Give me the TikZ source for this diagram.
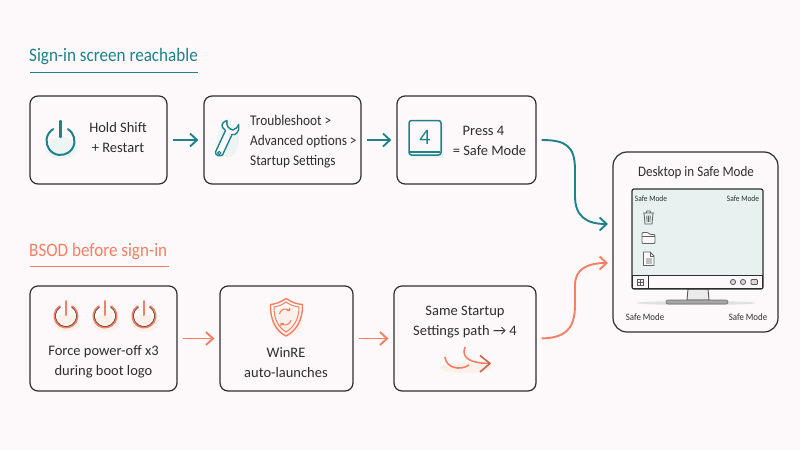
\documentclass[tikz,border=0pt]{standalone}
\usepackage{fontspec}
\setmainfont{Carlito}
\newfontfamily\narrowf[FakeStretch=0.9]{Carlito}
\usetikzlibrary{arrows.meta}
\definecolor{bgc}{HTML}{FDF9FA}
\definecolor{teal1}{HTML}{1F818A}
\definecolor{coral}{HTML}{F47F63}
\definecolor{ink}{HTML}{2E2E2E}
\definecolor{screenc}{HTML}{E6F1F0}
\definecolor{tintT}{HTML}{EDF5F4}
\definecolor{tintC}{HTML}{FCF0EB}
\tikzset{
  card/.style={draw=ink,line width=1.2pt,rounded corners=8pt,fill=bgc,inner sep=0pt},
  lab/.style={text=ink,font=\fontsize{14.5}{20}\selectfont,inner sep=0pt,align=center},
  narrowlab/.style={text=ink,font=\narrowf\fontsize{14.8}{20}\selectfont,inner sep=0pt,align=left,anchor=west},
  tiny/.style={text=ink,font=\narrowf\fontsize{8.2}{10}\selectfont,inner sep=0pt},
  small/.style={text=ink,font=\narrowf\fontsize{9.8}{13}\selectfont,inner sep=0pt},
  head/.style={font=\narrowf\fontsize{19}{22}\selectfont,inner sep=0pt,anchor=west},
  flow/.style={line width=1.9pt,-{Straight Barb[length=7pt,width=13pt,line width=1.9pt]},shorten >=5pt,shorten <=5pt},
  thin1/.style={draw=ink!75,line width=.8pt},
}
\newcommand{\powicon}[5]{% x y r colour tint
  \fill[#5] (#1+1,#2+7) ellipse ({#3+2} and {#3-3});
  \draw[#4,line width=2pt,line cap=round] (#1,#2)+(-58:#3) arc[start angle=-58,end angle=238,radius=#3];
}
\begin{document}
\begin{tikzpicture}[x=1pt,y=-1pt]
\useasboundingbox (0,0) rectangle (800,450);
\fill[bgc] (0,0) rectangle (800,450);

% headings
\node[head,text=teal1] (h1) at (29,57) {Sign-in screen reachable};
\draw[teal1,line width=1.2pt] (30,72.5) -- (198,72.5);
\node[head,text=coral] (h2) at (29,251.5) {BSOD before sign-in};
\draw[coral,line width=1.2pt] (30,266.5) -- (169,266.5);

% cards
\node[card,minimum width=137pt,minimum height=88pt] (a1) at (98.5,140) {};
\node[card,minimum width=157pt,minimum height=88pt] (a2) at (282.5,140) {};
\node[card,minimum width=139pt,minimum height=88pt] (a3) at (466.5,140) {};
\node[card,minimum width=147pt,minimum height=105pt] (b1) at (103.5,338.5) {};
\node[card,minimum width=133pt,minimum height=105pt] (b2) at (286.5,338.5) {};
\node[card,minimum width=142pt,minimum height=105pt] (b3) at (465,338.5) {};
\node[card,rounded corners=14pt,minimum width=165pt,minimum height=180pt] (big) at (695.5,242) {};

% connectors
\coordinate (inT) at (613,224);
\coordinate (inB) at (613,263);
\draw[flow,teal1] (a1) -- (a2);
\draw[flow,teal1] (a2) -- (a3);
\draw[flow,coral] (b1) -- (b2);
\draw[flow,coral] (b2) -- (b3);
\draw[flow,teal1] (a3.east) .. controls (566,140) and (575,146) .. (575,170) -- (575,196) .. controls (575,216) and (586,224) .. (inT);
\draw[flow,coral] (b3.east) .. controls (564,338) and (575,330) .. (575,305) -- (575,285) .. controls (575,270) and (586,263) .. (inB);

% row one contents
\powicon{60.5}{141}{14}{teal1}{tintT}
\draw[teal1,line width=2.4pt,line cap=round] (60.5,121) -- (60.5,137);
\node[lab] (t1) at (118,138) {Hold Shift\\+ Restart};

\fill[tintT] (228,140) ellipse (11 and 17);
\draw[teal1,line width=1.4pt,line join=round,fill=bgc]
  (215.5,152) -- (225.5,130.5) .. controls (221,127) and (220,123) .. (227,120.5)
  .. controls (226,125) and (228,129) .. (233,130) .. controls (236,129) and (238,127) .. (238.7,124.5)
  .. controls (240,131) and (236,136) .. (232,134.5) -- (222.5,155)
  .. controls (219,157) and (215,155) .. (215.5,152) -- cycle;
\draw[teal1,line width=1pt] (219.3,153) circle (1.6);
\node[narrowlab] (t2) at (250,141.5) {Troubleshoot >\\Advanced options >\\Startup Settings};

\fill[tintT] (411,123) rectangle (444,158);
\draw[teal1,line width=1.5pt,rounded corners=2.5pt,fill=bgc] (409,120.5) rectangle (441,155);
\draw[teal1,line width=1.5pt] (410,152) -- (440,152);
\node[text=teal1,font=\fontsize{22}{24}\selectfont,inner sep=0pt] (k4) at (425,137) {4};
\node[lab] (t3a) at (483.5,130.5) {Press 4};
\node[lab] (t3b) at (489.5,151) {= Safe Mode};

% row two contents
\foreach \x in {66,105,144}{
  \powicon{\x}{316}{11.5}{coral}{tintC}
  \draw[coral,line width=2pt,line cap=round] (\x,301) -- (\x,315);
  \draw[ink,line width=.5pt] (\x,316)+(-58:10.5) arc[start angle=-58,end angle=238,radius=10.5];
}
\node[lab] (t4) at (103.5,362) {Force power-off x3\\during boot logo};

\fill[tintC] (287,322) ellipse (15 and 14);
\draw[coral,line width=1.4pt,line join=round] (286,298.5) .. controls (279,303) and (275,304) .. (270.5,304.5)
  .. controls (270,320) and (276,331) .. (286,336) .. controls (296,331) and (303,320) .. (302.5,304.5)
  .. controls (297,304) and (293,303) .. (286,298.5) -- cycle;
\draw[coral,line width=1pt] (286,302) .. controls (281,305.5) and (278,306.5) .. (274,307)
  .. controls (274,319) and (278,327) .. (286,332) .. controls (294,327) and (299,319) .. (299,307)
  .. controls (295,306.5) and (291,305.5) .. (286,302) -- cycle;
\draw[coral,line width=1.1pt,-{Straight Barb[length=2pt,width=4pt]}] (279.5,314) arc[start angle=190,end angle=320,radius=6];
\draw[coral,line width=1.1pt,-{Straight Barb[length=2pt,width=4pt]}] (291,320) arc[start angle=10,end angle=140,radius=6];
\node[lab] (t5) at (286,363) {WinRE\\auto-launches};

\node[lab] (t6) at (465,322) {Same Startup\\Settings path → 4};
\fill[tintC] (466,368) ellipse (26 and 5);
\draw[coral,line width=1.6pt] (445,357) .. controls (446,368) and (460,371) .. (469,365);
\draw[coral,line width=1.6pt] (465,347) .. controls (461,358) and (470,363) .. (489,363.5);
\draw[coral!80!black,line width=1.6pt,line join=round] (480,355.5) -- (490,363.5) -- (480,372);

% desktop
\node[text=ink,font=\narrowf\fontsize{14.5}{17}\selectfont,inner sep=0pt] (t7) at (696,173) {Desktop in Safe Mode};
\fill[black!12] (696,303) ellipse (60 and 2);
\draw[ink!80,line width=.9pt,fill=black!8] (688,289) -- (687,300) -- (709,300) -- (708,289) -- cycle;
\draw[ink!70,fill=black!35,line width=.6pt,rounded corners=2pt] (666,300) rectangle (728,304);
\draw[ink,line width=1.2pt,rounded corners=2pt,fill=screenc] (632,189) rectangle (763,289);
\draw[ink,line width=.9pt,fill=bgc] (632.5,275) rectangle (762.5,288.5);
\draw[ink,line width=.9pt] (648,275) -- (648,288.5);
\draw[ink!80,line width=.6pt] (637,279) rectangle (643,285) (640,279) -- (640,285) (637,282) -- (643,282);
\foreach \x in {733,743}{\draw[ink!80,line width=.8pt,fill=black!15] (\x,282) circle (2.6);}
\draw[ink!80,line width=.8pt,fill=black!15,rounded corners=1pt] (751,279.5) rectangle (757.5,284.5);
\node[tiny] (s1) at (651,198.5) {Safe Mode};
\node[tiny] (s2) at (743,198.5) {Safe Mode};
\node[small] (s3) at (645,317.5) {Safe Mode};
\node[small] (s4) at (748,317.5) {Safe Mode};
% trash
\draw[thin1] (643,213) -- (654,213) (646,213) -- (647,211) -- (650,211) -- (651,213);
\draw[thin1] (644,213) -- (645,224) -- (652,224) -- (653,213)
  (646.8,215.5) -- (647,222) (648.5,215.5) -- (648.5,222) (650.2,215.5) -- (650,222);
% folder
\draw[thin1,fill=bgc,rounded corners=1pt] (642,243.5) -- (642,232.5) -- (648,232.5) -- (650,234.5) -- (655,234.5) -- (655,243.5) -- cycle;
\draw[thin1] (642,236.5) -- (655,236.5);
% doc
\draw[thin1,fill=bgc,line join=round] (643.5,252) -- (650,252) -- (654,256) -- (654,265.5) -- (643.5,265.5) -- cycle;
\draw[thin1] (650,252) -- (650,256) -- (654,256);
\fill[black!25] (646,258) rectangle (652,264);
\end{tikzpicture}
\end{document}
